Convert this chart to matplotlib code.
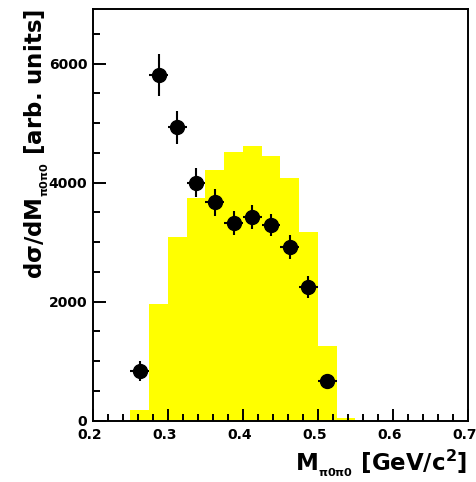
import numpy as np
import matplotlib
matplotlib.use("Agg")
import matplotlib.pyplot as plt
from matplotlib.ticker import MultipleLocator, FormatStrFormatter
from matplotlib.transforms import ScaledTranslation

plt.rcParams['font.family'] = ['DejaVu Sans']
plt.rcParams['font.weight'] = 'bold'
plt.rcParams['mathtext.default'] = 'regular'

# simulated distribution (yellow histogram), bins of 0.025 GeV/c^2
bin_edges = [0.25, 0.275, 0.3, 0.325, 0.35, 0.375, 0.4, 0.425, 0.45, 0.475, 0.5, 0.525, 0.55]
sim_counts = [180, 1961, 3092, 3738, 4213, 4511, 4617, 4454, 4074, 3176, 1261, 40]

# measured points
data_x = [0.2625, 0.2875, 0.3125, 0.3375, 0.3625, 0.3875, 0.4125, 0.4375, 0.4625, 0.4875, 0.5125]
data_y = [835, 5810, 4931, 4000, 3670, 3317, 3429, 3289, 2924, 2252, 667]
data_err = [160, 350, 280, 240, 230, 200, 200, 190, 200, 185, 100]
bin_half = 0.0125

fig = plt.figure(figsize=(4.77, 4.82), dpi=100)
ax = fig.add_axes([0.195, 0.1272, 0.7855, 0.8541])

ax.stairs(sim_counts, bin_edges, fill=True, color='#ffff00', linewidth=0)
ax.errorbar(data_x, data_y, yerr=data_err, xerr=bin_half, fmt='o', color='black',
            markersize=10, elinewidth=1.5, capsize=0, zorder=3)

ax.set_xlim(0.2, 0.7)
ax.set_ylim(0, 6920)

ax.xaxis.set_major_locator(MultipleLocator(0.1))
ax.xaxis.set_minor_locator(MultipleLocator(0.02))
ax.yaxis.set_major_locator(MultipleLocator(2000))
ax.yaxis.set_minor_locator(MultipleLocator(500))
ax.xaxis.set_major_formatter(FormatStrFormatter('%.1f'))

ax.tick_params(which='both', direction='in', top=False, right=False, width=1.4,
               labelsize=10)
ax.tick_params(which='major', length=9)
ax.tick_params(which='minor', length=4.7)
ax.tick_params(axis='y', pad=4)
ax.tick_params(axis='x', pad=5)
for s in ax.spines.values():
    s.set_linewidth(1.4)

# x tick labels sit a little left of their ticks in the original
shift = ScaledTranslation(-0.03, 0, fig.dpi_scale_trans)
for lab in ax.get_xticklabels():
    lab.set_transform(lab.get_transform() + shift)

# double subscript gives the small, low subscript of the original
ax.set_xlabel(r'M$_{{}_{\pi0\pi0}}$ [GeV/c$^{2}$]', fontsize=16.5, fontweight='bold', loc='right')
ax.set_ylabel(r'dσ/dM$_{{}_{\pi0\pi0}}$ [arb. units]', fontsize=16.5, fontweight='bold', loc='top')
ax.yaxis.set_label_coords(-0.112, 1.0)

fig.savefig('out.png', dpi=100)
